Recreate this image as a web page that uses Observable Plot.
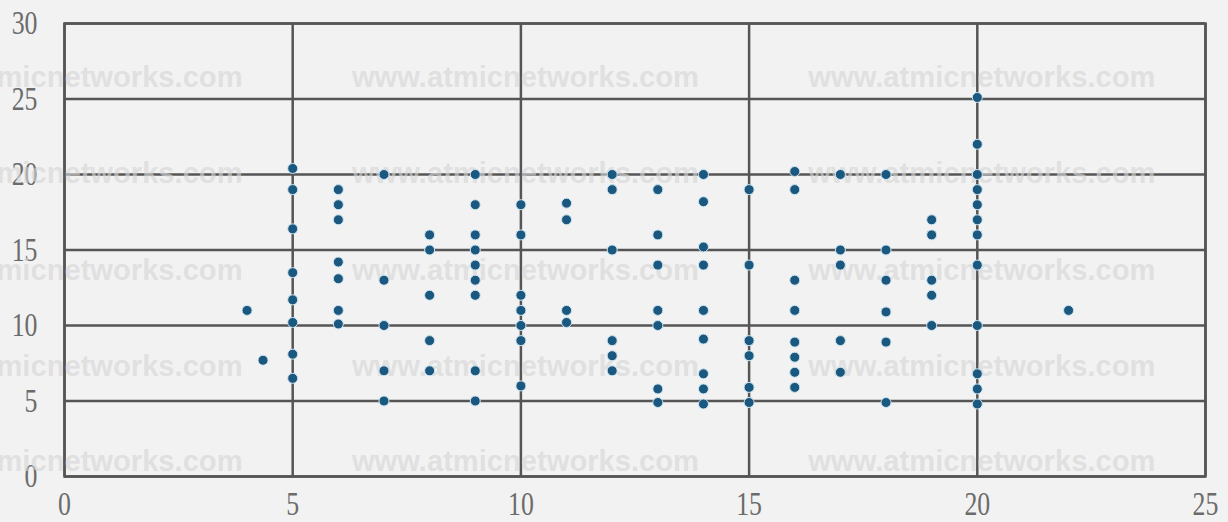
<!DOCTYPE html>
<html>
<head>
<meta charset="utf-8">
<script src="https://cdn.jsdelivr.net/npm/d3@7"></script>
<script src="https://cdn.jsdelivr.net/npm/@observablehq/plot@0.6"></script>
<style>
  html, body { margin: 0; padding: 0; background: #f3f3f3; }
  #chart { width: 1228px; height: 522px; overflow: hidden; }
</style>
</head>
<body>
<div id="chart"></div>
<script>
// x positions of each column of points
const xCols = [4, 4.35, 5, 6, 7, 8, 9, 10, 11, 12, 13, 14, 15, 16, 17, 18, 19, 20, 22];
// y values of the points in each column
const yCols = [
  [11],
  [7.7],
  [20.4, 19, 16.4, 13.5, 11.7, 10.2, 8.1, 6.5],
  [19, 18, 17, 14.2, 13.1, 11, 10.1],
  [20, 13, 10, 7, 5],
  [16, 15, 12, 9, 7],
  [20, 18, 16, 15, 14, 13, 12, 7, 5],
  [18, 16, 12, 11, 10, 9, 6],
  [18.1, 17, 11, 10.2],
  [20, 19, 15, 9, 8, 7],
  [19, 16, 14, 11, 10, 5.8, 4.9],
  [20, 18.2, 15.2, 14, 11, 9.1, 6.8, 5.8, 4.8],
  [19, 14, 9, 8, 5.9, 4.9],
  [20.2, 19, 13, 11, 8.9, 7.9, 6.9, 5.9],
  [20, 15, 14, 9, 6.9],
  [20, 15, 13, 10.9, 8.9, 4.9],
  [17, 16, 13, 12, 10],
  [25.1, 22, 20, 19, 18, 17, 16, 14, 10, 6.8, 5.8, 4.8],
  [11]
];
const xTicks = [0, 5, 10, 15, 20, 25];
const yTicks = [0, 5, 10, 15, 20, 25, 30];
const watermarkText = "www.atmicnetworks.com";
const watermarkCols = [0.1, 10.1, 20.1];
const watermarkRows = [26.4, 20.05, 13.65, 7.3, 0.95];

const points = xCols.flatMap((x, i) => yCols[i].map(y => ({x, y})));
const marks_wm = watermarkRows.flatMap(y => watermarkCols.map(x => ({x, y, t: watermarkText})));

const chart = Plot.plot({
  width: 1228,
  height: 522,
  marginLeft: 64,
  marginRight: 23,
  marginTop: 23,
  marginBottom: 46,
  x: {domain: [0, 25], label: null},
  y: {domain: [0, 30], label: null},
  style: {background: "#f2f2f2", fontFamily: "'Liberation Serif', serif", color: "#6b6b6b", overflow: "visible"},
  marks: [
    Plot.gridX(xTicks, {stroke: "#555", strokeOpacity: 1, strokeWidth: 2.5}),
    Plot.gridY(yTicks, {stroke: "#555", strokeOpacity: 1, strokeWidth: 2.5}),
    Plot.frame({stroke: "#555", strokeWidth: 2.5}),
    Plot.axisX(xTicks, {label: null, tickSize: 0, tickPadding: 14, fontSize: 34, fill: "#6b6b6b"}),
    Plot.axisY(yTicks, {label: null, tickSize: 0, tickPadding: 27, fontSize: 34, fill: "#6b6b6b"}),
    Plot.text(marks_wm, {x: "x", y: "y", text: "t", fontSize: 29, fontWeight: "bold",
      fontFamily: "'Liberation Sans', Arial, sans-serif", fill: "#d6d6d6", fillOpacity: 0.65,
      textAnchor: "middle", clip: false}),
    Plot.dot(points, {x: "x", y: "y", r: 5, fill: "#1a5880", stroke: "#cfe6f2", strokeWidth: 1})
  ]
});
document.getElementById("chart").appendChild(chart);

// Narrow the tall serif tick digits to the reference proportions
chart.querySelectorAll('g[aria-label="x-axis tick label"] text, g[aria-label="y-axis tick label"] text').forEach(t => {
  const w = t.getComputedTextLength();
  t.setAttribute("textLength", (w * 0.76).toFixed(1));
  t.setAttribute("lengthAdjust", "spacingAndGlyphs");
});
chart.querySelectorAll('g[aria-label="text"] text').forEach(t => {
  t.setAttribute("textLength", 347);
  t.setAttribute("lengthAdjust", "spacingAndGlyphs");
});
</script>
</body>
</html>
